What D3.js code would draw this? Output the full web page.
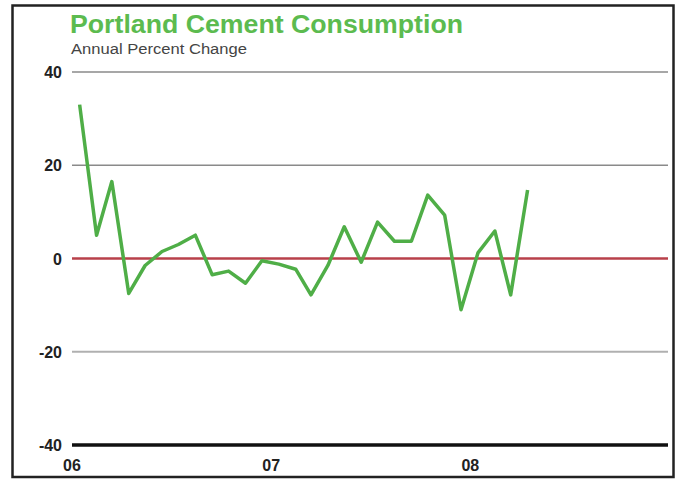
<!DOCTYPE html>
<html>
<head>
<meta charset="utf-8">
<script src="https://cdn.jsdelivr.net/npm/d3@7"></script>
<style>
  body { margin: 0; background: #fff; }
  text { font-family: Arial, "Liberation Sans", sans-serif; }
</style>
</head>
<body>
<div id="chart"></div>
<script>
// monthly readings, Jan 2006 .. Apr 2008
const months = d3.timeMonths(new Date(2006, 0, 1), new Date(2008, 4, 1));
const values = [
  33, 5, 16.5, -7.5, -1.5, 1.5, 3, 5, -3.5, -2.7, -5.3, -0.5,
  -1.2, -2.3, -7.8, -1.5, 6.8, -0.8, 7.8, 3.7, 3.7, 13.6, 9.3, -11,
  1.2, 5.9, -7.8, 14.7
];
const yTicks = [40, 20, 0, -20, -40];
const yearTicks = [2006, 2007, 2008];

const W = 680, H = 479;
const svg = d3.select('#chart').append('svg')
  .attr('width', W).attr('height', H);

// frame
svg.append('rect')
  .attr('x', 12.5).attr('y', 5.5).attr('width', 661).attr('height', 471.5)
  .attr('fill', '#fff').attr('stroke', '#222').attr('stroke-width', 2.5);

const x = d3.scaleTime()
  .domain([new Date(2006, 0, 1), new Date(2009, 0, 1)])
  .range([72, 670]);
const y = d3.scaleLinear().domain([-40, 40]).range([445, 72]);

// title
svg.append('text')
  .attr('x', 70).attr('y', 33)
  .attr('font-size', 25).attr('font-weight', 'bold')
  .attr('fill', '#5cbb4f')
  .attr('textLength', 393).attr('lengthAdjust', 'spacingAndGlyphs')
  .text('Portland Cement Consumption');
svg.append('text')
  .attr('x', 71).attr('y', 54)
  .attr('font-size', 14).attr('fill', '#444')
  .attr('textLength', 176).attr('lengthAdjust', 'spacingAndGlyphs')
  .text('Annual Percent Change');

// horizontal rules
const ruleStyle = v => {
  if (v === 0) return { c: '#b8404a', w: 2.5 };
  if (v === -40) return { c: '#111', w: 3.5 };
  if (v === -20) return { c: '#b0b0b0', w: 2 };
  return { c: '#8a8a8a', w: 1.5 };
};
svg.append('g').selectAll('line')
  .data(yTicks)
  .join('line')
  .attr('x1', 72).attr('x2', 668)
  .attr('y1', d => y(d)).attr('y2', d => y(d))
  .attr('stroke', d => ruleStyle(d).c)
  .attr('stroke-width', d => ruleStyle(d).w);

// y labels
svg.append('g').selectAll('text')
  .data(yTicks)
  .join('text')
  .attr('x', 62).attr('y', d => y(d) + 6)
  .attr('text-anchor', 'end')
  .attr('font-size', 16).attr('font-weight', 'bold').attr('fill', '#222')
  .text(d => d);

// x labels
svg.append('g').selectAll('text')
  .data(yearTicks)
  .join('text')
  .attr('x', d => x(new Date(d, 0, 1)))
  .attr('y', 471)
  .attr('text-anchor', 'middle')
  .attr('font-size', 16).attr('font-weight', 'bold').attr('fill', '#222')
  .text(d => String(d).slice(2));

// series
const pts = months.map((m, i) => ({ date: new Date(m.getFullYear(), m.getMonth(), 15), v: values[i] }));
svg.append('path')
  .datum(pts)
  .attr('fill', 'none')
  .attr('stroke', '#4fae47')
  .attr('stroke-width', 3.5)
  .attr('stroke-linejoin', 'round')
  .attr('d', d3.line().x(d => x(d.date)).y(d => y(d.v)));
</script>
</body>
</html>
